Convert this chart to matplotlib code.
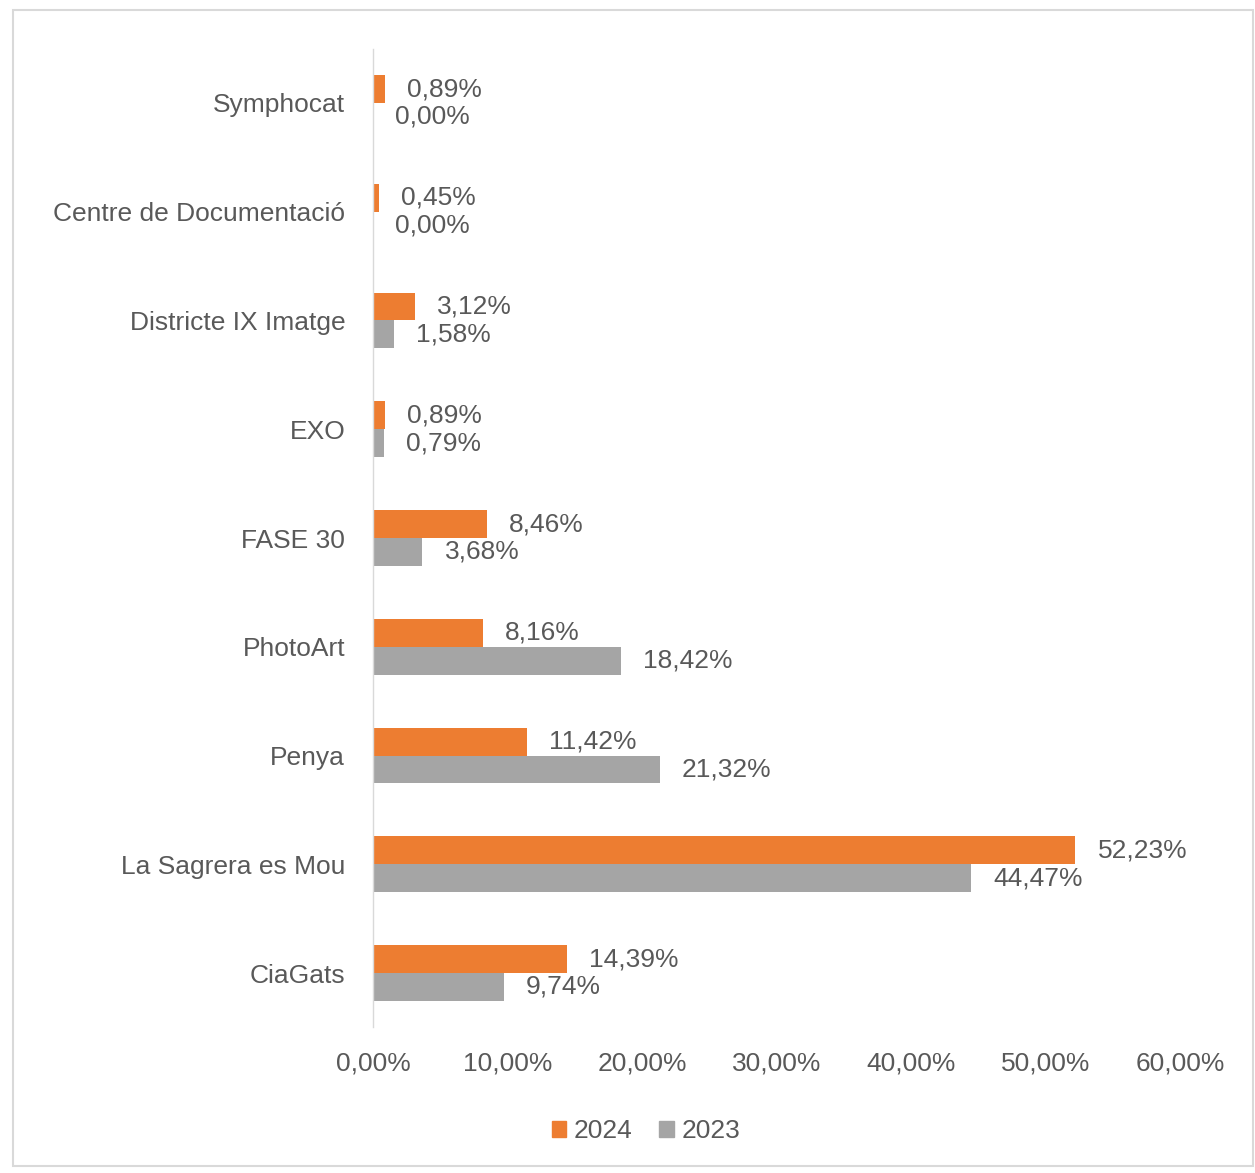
import matplotlib
matplotlib.use("Agg")
import matplotlib.pyplot as plt
import matplotlib.patches as mpatches
import numpy as np

# ---------------------------------------------------------------------------
# Data (top to bottom as shown)
# ---------------------------------------------------------------------------
categories = [
    "Symphocat",
    "Centre de Documentació",
    "Districte IX Imatge",
    "EXO",
    "FASE 30",
    "PhotoArt",
    "Penya",
    "La Sagrera es Mou",
    "CiaGats",
]
vals_2024 = [0.89, 0.45, 3.12, 0.89, 8.46, 8.16, 11.42, 52.23, 14.39]
vals_2023 = [0.00, 0.00, 1.58, 0.79, 3.68, 18.42, 21.32, 44.47, 9.74]
x_ticks = [0, 10, 20, 30, 40, 50, 60]

C_2024 = "#ED7D31"
C_2023 = "#A5A5A5"
TXT = "#595959"
FONT = "Liberation Sans"
FS = 19

W, H = 1255, 1173
fig = plt.figure(figsize=(W / 100, H / 100), dpi=100)
plt.rcParams["font.family"] = FONT

# Plot area in pixel coordinates.
x0, x1 = 373, 1180
y_top, y_bot = 48.6, 1027.4
ax = fig.add_axes([x0 / W, (H - y_bot) / H, (x1 - x0) / W, (y_bot - y_top) / H])

y = np.arange(len(categories))
bh = 0.257
ax.barh(y - bh / 2, vals_2024, height=bh, color=C_2024, label="2024")
ax.barh(y + bh / 2, vals_2023, height=bh, color=C_2023, label="2023")

for yi, v in zip(y, vals_2024):
    ax.annotate(f"{v:.2f}%".replace(".", ","), xy=(v, yi - bh / 2),
                xytext=(22, 0), textcoords="offset pixels",
                va="center", ha="left", fontsize=FS, color=TXT)
for yi, v in zip(y, vals_2023):
    ax.annotate(f"{v:.2f}%".replace(".", ","), xy=(v, yi + bh / 2),
                xytext=(22, 0), textcoords="offset pixels",
                va="center", ha="left", fontsize=FS, color=TXT)

ax.set_xlim(0, 60)
ax.set_ylim(len(categories) - 0.5, -0.5)
ax.set_xticks(x_ticks)
ax.set_xticklabels([f"{t:.2f}%".replace(".", ",") for t in x_ticks])
ax.set_yticks(y)
ax.set_yticklabels(categories)
ax.tick_params(axis="both", length=0, labelsize=FS, labelcolor=TXT)
ax.tick_params(axis="x", pad=17)
ax.tick_params(axis="y", pad=20)

for side in ["top", "right", "bottom"]:
    ax.spines[side].set_visible(False)
ax.spines["left"].set_color("#D9D9D9")
ax.spines["left"].set_linewidth(1.0)

handles = [
    mpatches.Patch(color=C_2024, label="2024"),
    mpatches.Patch(color=C_2023, label="2023"),
]
leg = fig.legend(handles=handles, loc="center", bbox_to_anchor=(646 / W, 1 - 1131 / H),
                 ncol=2, frameon=False, fontsize=FS, handlelength=0.55, handleheight=0.55,
                 handletextpad=0.3, columnspacing=1.0)
for t in leg.get_texts():
    t.set_color(TXT)

# Chart border.
fig.patches.append(mpatches.Rectangle((13 / W, 1 - 1166 / H), (1253 - 13) / W, (1166 - 10) / H,
                                      transform=fig.transFigure, fill=False,
                                      edgecolor="#D9D9D9", linewidth=1.5))

fig.savefig("out.png", dpi=100)
